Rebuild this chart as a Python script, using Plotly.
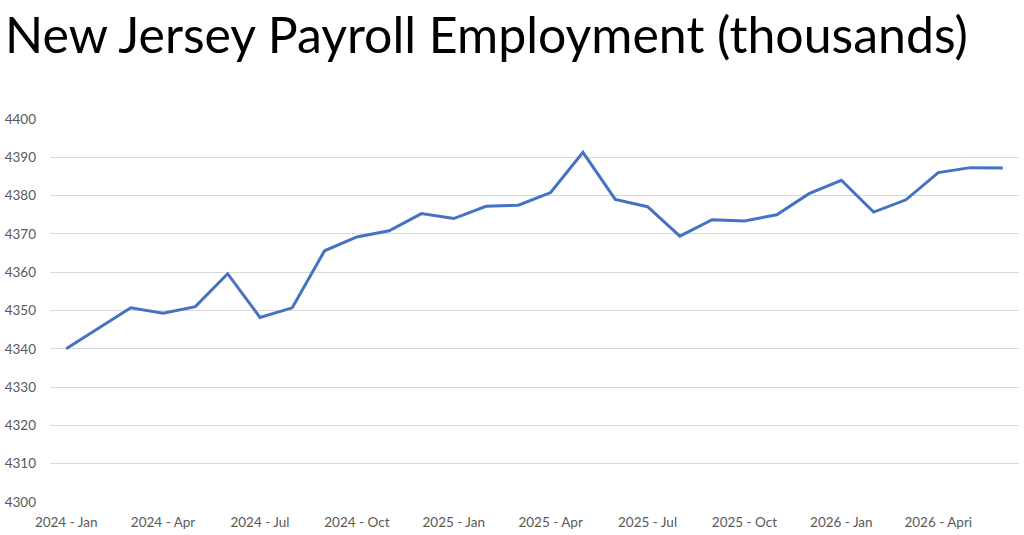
import plotly.graph_objects as go

months = ["2024 - Jan", "2024 - Feb", "2024 - Mar", "2024 - Apr", "2024 - May", "2024 - Jun",
          "2024 - Jul", "2024 - Aug", "2024 - Sep", "2024 - Oct", "2024 - Nov", "2024 - Dec",
          "2025 - Jan", "2025 - Feb", "2025 - Mar", "2025 - Apr", "2025 - May", "2025 - Jun",
          "2025 - Jul", "2025 - Aug", "2025 - Sep", "2025 - Oct", "2025 - Nov", "2025 - Dec",
          "2026 - Jan", "2026 - Feb", "2026 - Mar", "2026 - Apri", "2026 - May", "2026 - Jun"]
employment = [4340.0, 4345.4, 4350.7, 4349.3, 4351.0, 4359.6,
              4348.2, 4350.7, 4365.6, 4369.2, 4370.8, 4375.3,
              4374.0, 4377.2, 4377.5, 4380.8, 4391.3, 4379.0,
              4377.1, 4369.4, 4373.7, 4373.4, 4375.0, 4380.5,
              4384.0, 4375.7, 4378.9, 4386.0, 4387.3, 4387.2]
tick_labels = months[::3]
y_ticks = list(range(4300, 4401, 10))

fig = go.Figure()
fig.add_trace(go.Scatter(x=months, y=employment, mode="lines",
                         line=dict(color="#4472C4", width=3), hoverinfo="x+y"))

fig.update_layout(
    width=1024, height=535,
    paper_bgcolor="white", plot_bgcolor="white",
    margin=dict(l=47, r=5, t=119, b=32),
    showlegend=False,
    title=dict(text="New Jersey Payroll Employment (thousands)",
               font=dict(family="Lato", size=50, color="black"),
               x=0.005, xanchor="left", y=0.933, yanchor="middle"),
    font=dict(family="Lato", size=13.5, color="#595959"),
)
fig.update_xaxes(type="category", range=[-0.5, len(months) - 0.5],
                 tickmode="array", tickvals=tick_labels, ticktext=tick_labels,
                 showgrid=False, showline=False, ticks="", zeroline=False,
                 tickangle=0, ticklabelstandoff=10)
fig.update_yaxes(range=[4300, 4400], tickvals=y_ticks, showgrid=True,
                 gridcolor="#D9D9D9", gridwidth=1, zeroline=False, showline=False,
                 ticks="", ticklabelstandoff=13)

fig.write_html("out.html", config={"displayModeBar": False},
               post_script="document.body.style.margin='0';")
